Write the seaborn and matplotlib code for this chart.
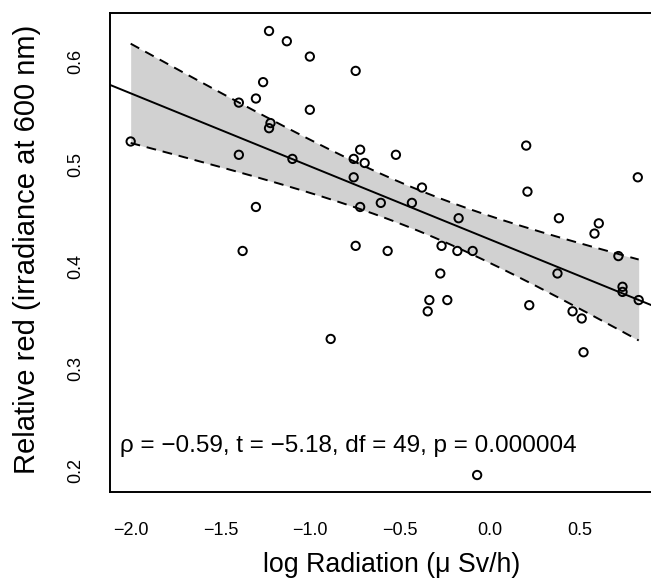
import numpy as np
import pandas as pd
import matplotlib
matplotlib.use("Agg")
import matplotlib.pyplot as plt
import seaborn as sns

# ---- data ----
log_radiation = [-1.230, -1.131, -1.003, -0.748, -1.263, -1.303, -1.398, -1.003,
                 -1.222, -1.230, -2.000, -1.398, -1.100, -0.723, -0.759, -0.698,
                 -0.759, -0.608, -1.303, -0.723, -0.524, 0.201, 0.822, -0.379,
                 0.208, -0.435, -1.377, -0.748, -0.887, -0.175, 0.383, 0.605,
                 0.581, -0.570, -0.270, -0.182, -0.097, 0.714, -0.277, 0.375,
                 0.737, 0.737, 0.827, -0.338, -0.238, -0.347, 0.218, 0.459,
                 0.510, 0.520, -0.072]
relative_red = [0.630, 0.620, 0.605, 0.591, 0.580, 0.564, 0.560, 0.553,
                0.540, 0.535, 0.522, 0.509, 0.505, 0.514, 0.505, 0.501,
                0.487, 0.462, 0.458, 0.458, 0.509, 0.518, 0.487, 0.477,
                0.473, 0.462, 0.415, 0.420, 0.329, 0.447, 0.447, 0.442,
                0.432, 0.415, 0.420, 0.415, 0.415, 0.410, 0.393, 0.393,
                0.380, 0.375, 0.367, 0.367, 0.367, 0.356, 0.362, 0.356,
                0.349, 0.316, 0.196]

x_ticks = [-2.0, -1.5, -1.0, -0.5, 0.0, 0.5]
x_tick_labels = ["\u22122.0", "\u22121.5", "\u22121.0", "\u22120.5", "0.0", "0.5"]
y_ticks = [0.2, 0.3, 0.4, 0.5, 0.6]
y_tick_labels = ["0.2", "0.3", "0.4", "0.5", "0.6"]

x_label = "log Radiation (\u03bc Sv/h)"
y_label = "Relative red (irradiance at 600 nm)"
stats_text = "\u03c1 = \u22120.59, t = \u22125.18, df = 49, p = 0.000004"

df = pd.DataFrame({"x": log_radiation, "y": relative_red})

# ---- style ----
sns.set_style("white")
plt.rcParams["font.family"] = ["Liberation Sans", "DejaVu Sans"]
plt.rcParams["axes.unicode_minus"] = True

W, H = 651, 581
fig = plt.figure(figsize=(W / 100, H / 100), dpi=100)
# axes box in pixels (from top-left)
L, R, T, B = 110.0, 659.0, 13.3, 491.7
ax = fig.add_axes([L / W, 1 - B / H, (R - L) / W, (B - T) / H])

xlim = (-2.115, 0.94)
ylim = (0.1797, 0.6473)

# ---- regression with 95% confidence band ----
xv = df["x"].to_numpy()
yv = df["y"].to_numpy()
n = len(xv)
b1, b0 = np.polyfit(xv, yv, 1)
resid = yv - (b0 + b1 * xv)
s = np.sqrt(np.sum(resid ** 2) / (n - 2))
sxx = np.sum((xv - xv.mean()) ** 2)
t_crit = 2.0096  # t(0.975, 49)

xb = np.linspace(xv.min(), xv.max(), 200)
fit_b = b0 + b1 * xb
half = t_crit * s * np.sqrt(1 / n + (xb - xv.mean()) ** 2 / sxx)
ax.fill_between(xb, fit_b - half, fit_b + half, color="#d1d1d1", lw=0, zorder=1)
ax.plot(xb, fit_b + half, color="black", lw=1.4, ls=(0, (5, 3.5)), zorder=2)
ax.plot(xb, fit_b - half, color="black", lw=1.4, ls=(0, (5, 3.5)), zorder=2)

xl = np.array(xlim)
ax.plot(xl, b0 + b1 * xl, color="black", lw=1.4, zorder=3)

sns.scatterplot(data=df, x="x", y="y", ax=ax, s=36, facecolor="none",
                edgecolor="black", linewidth=1.4, zorder=4, legend=False)

ax.text(-2.062, 0.2189, stats_text, fontsize=17.5, ha="left", va="baseline",
        color="black", zorder=5)

ax.set_xlim(*xlim)
ax.set_ylim(*ylim)

ax.set_xticks(x_ticks)
ax.set_xticklabels(x_tick_labels)
ax.set_yticks(y_ticks)
ax.set_yticklabels(y_tick_labels, rotation=90, va="center")

ax.tick_params(axis="both", direction="out", length=9.2, width=1.4,
               colors="black", labelsize=13)
ax.tick_params(axis="x", pad=12.7)
ax.tick_params(axis="y", pad=9)

for side in ["left", "bottom", "top"]:
    ax.spines[side].set_visible(True)
    ax.spines[side].set_linewidth(1.4)
    ax.spines[side].set_color("black")
ax.spines["right"].set_visible(False)

ax.set_xlabel(x_label, fontsize=19.3, color="black")
ax.set_ylabel(y_label, fontsize=21, color="black")
ax.xaxis.set_label_coords((392 - L) / (R - L), (B - 572.3) / (B - T))
ax.xaxis.label.set_va("baseline")
ax.yaxis.set_label_coords((35 - L) / (R - L), (B - 249) / (B - T))
ax.yaxis.label.set_va("baseline")

fig.savefig("out.png", dpi=100)
